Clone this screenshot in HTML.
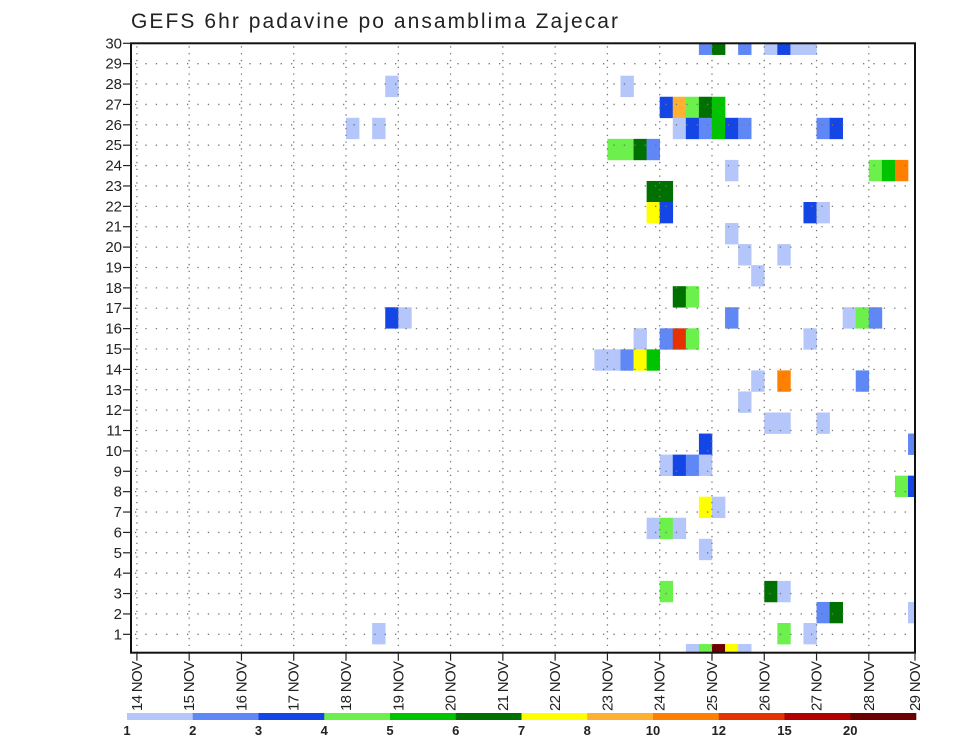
<!DOCTYPE html>
<html><head><meta charset="utf-8"><style>
html,body{margin:0;padding:0;background:#fff;}
svg{display:block;font-family:"Liberation Sans","DejaVu Sans",sans-serif;}
</style></head><body>
<svg id="chart" width="960" height="742" viewBox="0 0 960 742">
<text x="131" y="28" font-size="21" fill="#222" textLength="487" lengthAdjust="spacing">GEFS 6hr padavine po ansamblima Zajecar</text>
<g id="cells" clip-path="url(#plotclip)"></g>
<g id="grid"></g>
<g id="axes"></g>
<g id="legend"></g>
<defs><clipPath id="plotclip"><rect x="131" y="43.3" width="784" height="609.4"/></clipPath></defs>
</svg>
<script>
// Data: band index (0 = top), 6-hour slot from 14 NOV 00Z, precip value (mm)
const cellBand = [0,0,0,0,0,0,0, 2,2, 3,3,3,3,3, 4,4,4,4,4,4,4,4,4,4, 5,5,5,5, 6,6,6,6, 7,7, 8,8,8,8, 9, 10,10, 11, 12,12, 13,13,13,13,13,13, 14,14,14,14,14, 15,15,15,15,15, 16,16,16, 17, 18,18,18, 19,19, 20,20,20,20, 21,21, 22,22, 23,23,23, 24, 26,26,26, 27,27,27, 28,28,28, 29,29,29,29,29];
const cellSlot = [43,44,46,48,49,50,51, 37,19, 40,41,42,43,44, 41,42,43,44,45,46,52,53,16,18, 36,37,38,39, 45,56,57,58, 39,40, 39,40,51,52, 45, 46,49, 47, 41,42, 45,54,55,56,19,20, 38,40,41,42,51, 35,36,37,38,39, 47,49,55, 46, 48,49,52, 43,59, 40,41,42,43, 58,59, 43,44, 39,40,41, 43, 40,48,49, 52,53,59, 49,51,18, 42,43,44,45,46];
const cellValue = [2,6,2,1,3,1,1, 1,1, 3,8,4,6,5, 1,3,2,5,3,2,2,3,1,1, 4,4,6,2, 1,4,5,10, 6,6, 7,3,3,1, 1, 1,1, 1, 6,4, 2,1,4,2,3,1, 1,2,12,4,1, 1,1,2,7,5, 1,10,2, 1, 1,1,1, 3,2, 1,3,2,1, 4,3, 7,1, 1,4,1, 1, 4,6,1, 2,6,1, 4,1,1, 1,4,20,7,1];
const levels = [1,2,3,4,5,6,7,8,10,12,15,20];
const levelColors = ["#b4c6fa","#5f87f5","#1446e6","#6cf04c","#00c400","#007000","#ffff00","#ffb030","#ff7f00","#e63200","#b00000","#6e0000"];
const dayLabels = ["14","15","16","17","18","19","20","21","22","23","24","25","26","27","28","29"];
const rowLabels = [30,29,28,27,26,25,24,23,22,21,20,19,18,17,16,15,14,13,12,11,10,9,8,7,6,5,4,3,2,1];

const NS="http://www.w3.org/2000/svg";
const L=131,R=915,T=43.3,B=652.7;
const dayX=d=>136.9+d*52.28;
const slotX=s=>136.9+s*13.07;
const slotW=13.07;
const bandY=b=>33.6+b*21.05;
const bandH=21.05;
const rowY=i=>43.3+i*20.38;
function colorFor(v){let c=levelColors[0];for(let i=0;i<levels.length;i++){if(v>=levels[i])c=levelColors[i];}return c;}
function mk(tag,attrs,parent){const e=document.createElementNS(NS,tag);for(const k in attrs)e.setAttribute(k,attrs[k]);parent.appendChild(e);return e;}

const cells=document.getElementById('cells');
for(let i=0;i<cellValue.length;i++){
  const r=mk('rect',{x:slotX(cellSlot[i]),y:bandY(cellBand[i]),width:slotW+0.3,height:bandH+0.3,fill:colorFor(cellValue[i])},cells);
  
  
}
const grid=document.getElementById('grid');
for(let i=1;i<rowLabels.length;i++){
  const y=rowY(i);
  const l=mk('line',{x1:L+4,x2:R,y1:y,y2:y,stroke:"#777","stroke-width":1.3,"stroke-dasharray":"1.3,9.1"},grid);
  
  
}
for(let d=0;d<dayLabels.length;d++){
  const x=dayX(d);
  if(x>R-2)continue;
  const l=mk('line',{x1:x,x2:x,y1:T+3,y2:B,stroke:"#777","stroke-width":1.3,"stroke-dasharray":"1.3,5.5"},grid);
  
  
}
const axes=document.getElementById('axes');
const frame=mk('rect',{x:L,y:T,width:R-L,height:B-T,fill:"none",stroke:"#111","stroke-width":2},axes);


for(let i=0;i<rowLabels.length;i++){
  const y=rowY(i);
  mk('line',{x1:123,x2:L,y1:y,y2:y,stroke:"#222","stroke-width":1.2},axes);
  const t=mk('text',{x:122,y:y+5,"font-size":15,"text-anchor":"end",fill:"#222"},axes);
  t.textContent=rowLabels[i];
  
  
}
for(let d=0;d<dayLabels.length;d++){
  const x=Math.min(dayX(d),R);
  mk('line',{x1:x,x2:x,y1:B,y2:B+8,stroke:"#222","stroke-width":1.2},axes);
  const t=mk('text',{x:0,y:0,"font-size":15,fill:"#222",textLength:50,lengthAdjust:"spacing",transform:`translate(${x+5},711) rotate(-90)`},axes);
  t.textContent=dayLabels[d]+" NOV";
  
  
}
const leg=document.getElementById('legend');
const cbL=127,cbR=916,segW=(cbR-cbL)/levels.length;
for(let i=0;i<levels.length;i++){
  const r=mk('rect',{x:cbL+i*segW,y:713,width:segW+0.3,height:7,fill:levelColors[i]},leg);
  
  
  const t=mk('text',{x:cbL+i*segW,y:735,"font-size":13,"font-weight":"bold","text-anchor":"middle",fill:"#222"},leg);
  t.textContent=levels[i];
  
  
}
</script>
</body></html>
